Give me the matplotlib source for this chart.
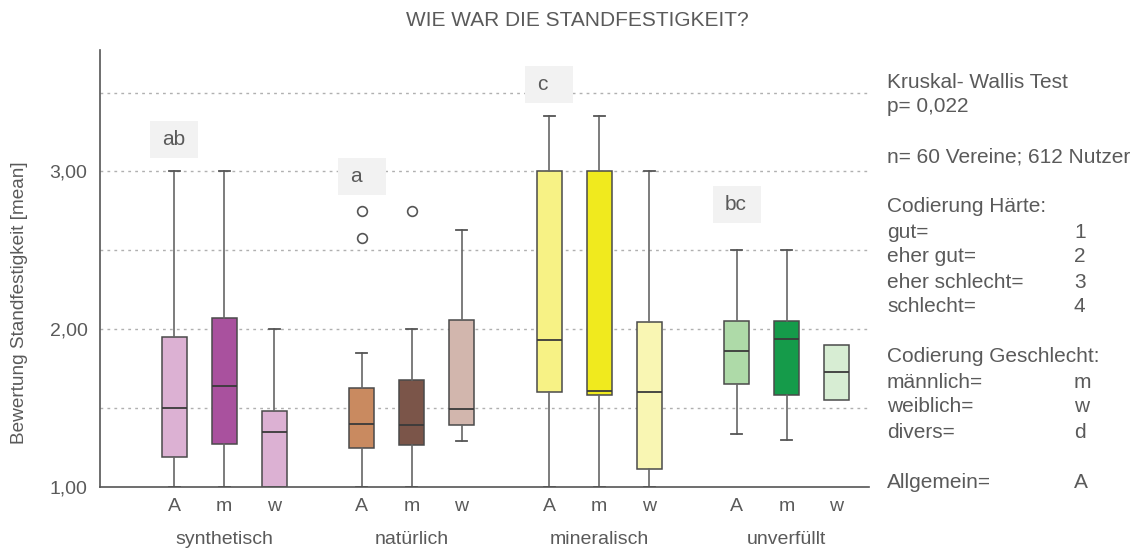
import matplotlib
matplotlib.use("Agg")
import matplotlib.pyplot as plt
from matplotlib.patches import Rectangle
from matplotlib.transforms import blended_transform_factory

plt.rcParams['font.family'] = ['Liberation Sans', 'DejaVu Sans']

# ---------------- data ----------------
groups = ['synthetisch', 'natürlich', 'mineralisch', 'unverfüllt']
subcats = ['A', 'm', 'w']

whislo = [1.00, 1.00, 1.00,   1.00, 1.00, 1.29,   1.00, 1.00, 1.00,   1.335, 1.30, 1.55]
q1     = [1.19, 1.27, 1.00,   1.245, 1.265, 1.39, 1.60, 1.58, 1.117,  1.65, 1.58, 1.55]
med    = [1.50, 1.64, 1.35,   1.40, 1.39, 1.495,  1.93, 1.61, 1.605,  1.86, 1.935, 1.726]
q3     = [1.95, 2.07, 1.48,   1.63, 1.68, 2.06,   3.00, 3.00, 2.045,  2.055, 2.05, 1.90]
whishi = [3.00, 3.00, 2.00,   1.85, 2.00, 2.63,   3.35, 3.35, 3.00,   2.50, 2.50, 1.90]
fliers = [[], [], [],   [2.58, 2.75], [2.75], [],   [], [], [],   [], [], []]

box_colors = ['#dcb1d3', '#a9519e', '#dcb1d3',
              '#c98a60', '#7b5549', '#d2b6ad',
              '#f7f285', '#f0ea1e', '#f9f6b3',
              '#aedaa8', '#159b4a', '#d7edd3']

letters = ['ab', 'a', 'c', 'bc']
letter_y = [3.20, 2.97, 3.55, 2.79]

legend_lines = [
    ('Kruskal- Wallis Test', ''), ('p= 0,022', ''), None,
    ('n= 60 Vereine; 612 Nutzer', ''), None,
    ('Codierung Härte:', ''), ('gut=', '1'), ('eher gut=', '2'),
    ('eher schlecht=', '3'), ('schlecht=', '4'), None,
    ('Codierung Geschlecht:', ''), ('männlich=', 'm'), ('weiblich=', 'w'),
    ('divers=', 'd'), None, ('Allgemein=', 'A'),
]

# ---------------- layout ----------------
W, H = 1139, 554
fig = plt.figure(figsize=(W / 100, H / 100), dpi=100)
ax = fig.add_axes([100 / W, 1 - 487 / H, (869 - 100) / W, (487 - 50) / H])

TXT = '#5a5a5a'
group_step = 3.75
positions = [g * group_step + (k - 1) for g in range(len(groups)) for k in range(len(subcats))]

stats = []
for i in range(len(positions)):
    stats.append(dict(whislo=whislo[i], q1=q1[i], med=med[i], q3=q3[i],
                      whishi=whishi[i], fliers=fliers[i]))

bp = ax.bxp(stats, positions=positions, widths=0.5, patch_artist=True,
            showfliers=True, capwidths=0.22,
            boxprops=dict(edgecolor='#4a4a4a', linewidth=1.1),
            medianprops=dict(color='#3a3a3a', linewidth=1.3),
            whiskerprops=dict(color='#666666', linewidth=1.2),
            capprops=dict(color='#555555', linewidth=1.3),
            flierprops=dict(marker='o', markerfacecolor='none', markeredgecolor='#555555',
                            markersize=7, markeredgewidth=1.2))
for patch, c in zip(bp['boxes'], box_colors):
    patch.set_facecolor(c)
for i, (lo, hi) in enumerate(zip(whislo, whishi)):
    if lo == q1[i] and hi == q3[i]:
        bp['caps'][2 * i].set_visible(False)
        bp['caps'][2 * i + 1].set_visible(False)

ax.set_xlim(-2.48, 12.9)
ax.set_ylim(1.0, 3.77)

for y in [1.5, 2.0, 2.5, 3.0, 3.5]:
    ax.axhline(y, color='#b0b0b0', linestyle=(0, (2, 3)), linewidth=1.0, zorder=0)

ax.set_yticks([1.0, 2.0, 3.0])
ax.set_yticklabels(['1,00', '2,00', '3,00'], fontsize=14, color=TXT)
ax.tick_params(axis='y', length=0, pad=9)
ax.set_xticks(positions)
ax.set_xticklabels(subcats * len(groups), fontsize=14, color=TXT)
ax.tick_params(axis='x', length=0, pad=8)

for s in ['top', 'right']:
    ax.spines[s].set_visible(False)
ax.spines['left'].set_color('#555555')
ax.spines['bottom'].set_color('#555555')
ax.spines['left'].set_linewidth(1.2)
ax.spines['bottom'].set_linewidth(1.2)

trans = blended_transform_factory(ax.transData, fig.transFigure)
for g, name in enumerate(groups):
    ax.text(g * group_step, 1 - 540 / H, name, transform=trans, ha='center', va='center',
            fontsize=14, color=TXT)

# letter labels
for g, (lt, ly) in enumerate(zip(letters, letter_y)):
    xc = g * group_step - 1
    bw, bh = 0.96, 0.235
    ax.add_patch(Rectangle((xc - bw / 2, ly - bh / 2), bw, bh, facecolor='#f2f2f2',
                           edgecolor='none', zorder=3, clip_on=False))
    ax.text(xc - bw / 2 + 0.25, ly, lt, ha='left', va='center', fontsize=15, color=TXT, zorder=4)

fig.text(577 / W, 1 - 20 / H, 'WIE WAR DIE STANDFESTIGKEIT?', ha='center', va='center',
         fontsize=15, color=TXT)
fig.text(20 / W, 1 - 303 / H, 'Bewertung Standfestigkeit [mean]', rotation=90,
         ha='center', va='center', fontsize=13.7, color=TXT)

y0 = 82
for i, item in enumerate(legend_lines):
    if item is None:
        continue
    py = y0 + i * 25
    fig.text(887 / W, 1 - py / H, item[0], ha='left', va='center', fontsize=15, color=TXT)
    if item[1]:
        fig.text(1074 / W, 1 - py / H, item[1], ha='left', va='center', fontsize=15, color=TXT)

fig.savefig('out.png', dpi=100)
